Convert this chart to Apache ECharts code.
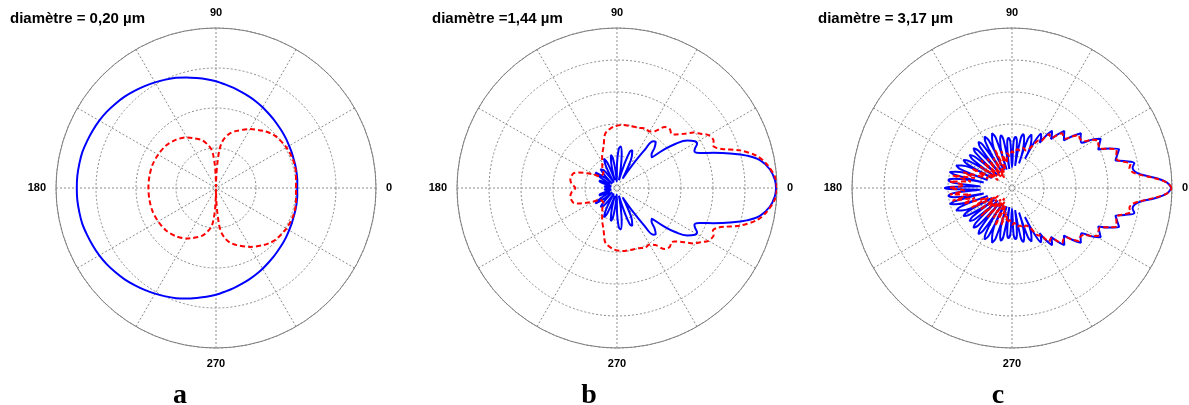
<!DOCTYPE html>
<html><head><meta charset="utf-8">
<script src="https://cdn.jsdelivr.net/npm/echarts@6/dist/echarts.min.js"></script>
<style>html,body{margin:0;padding:0;background:#fff}#c{width:1189px;height:405px}</style>
</head><body><div id="c"></div>
<script>
// ---- texts ----
const titles = ['diamètre = 0,20 µm', 'diamètre =1,44 µm', 'diamètre = 3,17 µm'];
const panelLetters = ['a', 'b', 'c'];
const angleTickLabels = [0, 90, 180, 270];
const radialMax = [4, 5, 5];

// ---- panel a (upper half: angle in degrees, radius in ring units) ----
const aBlueAng = [0,5,10,15,20,25,30,35,40,45,50,55,60,65,70,75,80,85,90,95,100,105,110,115,120,125,130,135,140,145,150,155,160,165,170,175,180];
const aBlueR   = [2.03,2.04,2.05,2.06,2.07,2.09,2.11,2.14,2.17,2.20,2.24,2.28,2.33,2.38,2.43,2.48,2.54,2.60,2.67,2.73,2.79,2.86,2.93,2.99,3.05,3.11,3.17,3.23,3.28,3.33,3.37,3.40,3.43,3.46,3.47,3.48,3.48];
const aRedAng = [0,10,20,30,40,45,50,60,70,76,80,83,85,87,88,89,90,91,92,93,95,97,100,106,115,120,130,140,150,160,170,180];
const aRedR   = [2.0,2.03,2.05,2.03,1.98,1.93,1.86,1.70,1.52,1.40,1.27,1.13,0.95,0.6,0.4,0.2,0.03,0.2,0.4,0.6,0.85,0.98,1.08,1.24,1.38,1.46,1.57,1.64,1.67,1.69,1.69,1.69];

// ---- panel b ----
const bBlueAng = [0,3,7,11,14,17,20,23,25.5,27,29,31,34,37,39.5,41.5,44,47,50,52,54,56.5,59,62,65,68,70.5,73,76,79,82,85,87.5,90,92.5,95,98,100.5,103,105.5,108,111,114,117,120,123,127,131,134,137,140,144,147,150,153,157,160,164,168,172,176,180];
const bBlueR   = [4.97,4.94,4.81,4.55,4.18,3.69,3.21,2.80,2.68,2.74,2.86,2.84,2.65,2.3,1.85,1.45,1.5,1.72,1.88,1.85,1.45,0.8,0.35,0.7,1.1,1.27,1.2,0.75,0.25,0.6,1.05,1.3,1.22,0.75,0.2,0.55,0.95,1.05,0.8,0.25,0.45,0.85,1.0,0.75,0.2,0.4,0.7,0.78,0.55,0.2,0.5,0.83,0.7,0.25,0.35,0.6,0.55,0.2,0.25,0.4,0.35,0.2];
const bRedAng = [0,4,9,13,17,20,22,24,26,30,33,36,39,43,45,48,52,56,60,65,70,78,85,93,100,103,108,115,125,132,140,145,150,154,158,161,165,170,175,180];
const bRedR   = [5.0,4.95,4.74,4.48,4.02,3.55,3.35,3.28,3.36,3.30,3.11,2.95,2.69,2.45,2.40,2.47,2.42,2.15,2.04,2.06,2.0,1.98,1.98,1.92,1.80,1.70,1.36,1.10,0.80,0.63,0.62,0.64,0.85,1.05,1.30,1.43,1.47,1.48,1.42,1.30];

// ---- panel c ----
const cBlueAng = [0,2,4,6,7.5,9.5,11.5,13.5,15,17.5,20,22,24,26.5,29,31,33,36,38.5,40.5,42.5,45,47.5,49.5,51.5,53.5,55,57,58.5,60.5,62,64,66,68,70,72,74,76,78,80,82,84,86,88,90,92,94,96,98,100,102,104,106,108,110,112,114,116,118,120,122,124,126,128,130,132,134,136,138,140,142,144,146,148,150,152,154,156,158,160,162,164,165.5,167,169,171,173,175,177,179,180];
const cBlueR   = [4.98,4.85,4.5,4.05,3.88,3.82,3.9,3.6,3.35,3.45,3.56,3.3,2.95,3.05,3.17,2.95,2.6,2.65,2.75,2.5,2.2,2.3,2.42,2.2,1.95,2.1,2.18,1.95,1.65,1.85,1.92,1.6,1.0,1.62,1.78,1.62,0.8,1.57,1.72,1.57,0.7,1.46,1.6,1.46,0.65,1.43,1.57,1.43,0.6,1.53,1.68,1.53,0.6,1.66,1.82,1.66,0.6,1.66,1.82,1.66,0.6,1.62,1.78,1.62,0.6,1.58,1.73,1.58,0.6,1.53,1.68,1.53,0.65,1.6,1.75,1.6,0.7,1.72,1.88,1.72,0.8,1.84,2.0,1.84,0.9,1.84,2.0,1.84,1.0,1.95,2.1];
const cRedAng = [0,2,4,6,7.5,9.5,11.5,13.5,15,17.5,20,22,24,26.5,29,31,33,36,38.5,40.5,42.5,45,47.5,49.5,51.5,53.5,55,57,58.5,61,63,66,70,74,78,82,86,90,94,98,102,106,110,114,118,122,126,130,134,138,142,146,150,154,158,162,165,168,171,174,177,180];
const cRedR   = [5.0,4.85,4.45,4.0,3.8,3.72,3.78,3.55,3.4,3.42,3.48,3.28,3.02,3.02,3.08,2.92,2.68,2.62,2.66,2.48,2.28,2.27,2.32,2.18,2.0,2.0,2.05,1.9,1.72,1.7,1.55,1.35,1.25,1.3,1.2,1.22,1.1,1.15,1.0,1.1,0.8,1.2,0.6,1.3,0.5,1.1,0.4,1.2,0.5,1.3,0.6,1.2,0.5,1.4,0.8,1.6,1.2,1.9,1.3,1.95,1.5,1.95];

// mirror the upper half (0..180) into a full closed curve
function fullCurve(ang, r) {
  const pts = ang.map((a, i) => [r[i], a]);
  for (let i = ang.length - 1; i >= 0; i--) {
    if (ang[i] === 180) continue;
    pts.push([r[i], 360 - ang[i]]);
  }
  return pts;
}

const centers = [[216, 188], [617, 188], [1012, 188]];
const letterX = [180, 589, 998];
const titleX = [10, 432, 818];

const polar = centers.map(c => ({ center: c, radius: 160 }));
const gridLine = { color: '#8c8c8c', width: 1, type: [2, 2] };
const angleAxis = centers.map((c, k) => ({
  polarIndex: k, type: 'value', min: 0, max: 360, interval: 30,
  startAngle: 0, clockwise: false,
  axisLine: { show: true, lineStyle: { color: '#808080', width: 1 } },
  axisTick: { show: false },
  splitLine: { show: true, lineStyle: gridLine },
  axisLabel: {
    margin: 10, color: '#000', fontSize: 11, fontWeight: 'bold', fontFamily: 'Liberation Sans, Arial, sans-serif',
    formatter: v => angleTickLabels.indexOf(v) >= 0 ? String(v) : ''
  }
}));
const radiusAxis = centers.map((c, k) => ({
  polarIndex: k, type: 'value', min: 0, max: radialMax[k], interval: 1,
  axisLine: { show: false }, axisTick: { show: false }, axisLabel: { show: false },
  splitLine: { show: true, lineStyle: gridLine }
}));

function lineSeries(k, data, color, dashed, z, smooth) {
  return {
    type: 'line', coordinateSystem: 'polar', polarIndex: k, data: data,
    showSymbol: false, smooth: smooth, z: z, animation: false,
    lineStyle: { color: color, width: 2, type: dashed ? [5, 3] : 'solid' }
  };
}

const series = [
  lineSeries(0, fullCurve(aBlueAng, aBlueR), '#0000ff', false, 2, 0.3),
  lineSeries(0, fullCurve(aRedAng, aRedR), '#ff0000', true, 3, 0.3),
  lineSeries(1, fullCurve(bBlueAng, bBlueR), '#0000ff', false, 2, 0.4),
  lineSeries(1, fullCurve(bRedAng, bRedR), '#ff0000', true, 3, 0.3),
  lineSeries(2, fullCurve(cBlueAng, cBlueR), '#0000ff', false, 2, 0.4),
  lineSeries(2, fullCurve(cRedAng, cRedR), '#ff0000', true, 3, 0.3)
];

const title = titles.map((t, k) => ({
  text: t, left: titleX[k], top: 11, padding: 0,
  textStyle: { fontSize: 15, fontWeight: 'bold', color: '#000', fontFamily: 'Liberation Sans, Arial, sans-serif' }
})).concat(panelLetters.map((t, k) => ({
  text: t, left: letterX[k], top: 382, padding: 0, textAlign: 'center',
  textStyle: { fontSize: 28, fontWeight: 'bold', color: '#000', fontFamily: 'Liberation Serif, Times New Roman, serif' }
})));

const chart = echarts.init(document.getElementById('c'), null, { renderer: 'canvas' });
chart.setOption({ animation: false, backgroundColor: '#fff', title, polar, angleAxis, radiusAxis, series });
</script></body></html>
